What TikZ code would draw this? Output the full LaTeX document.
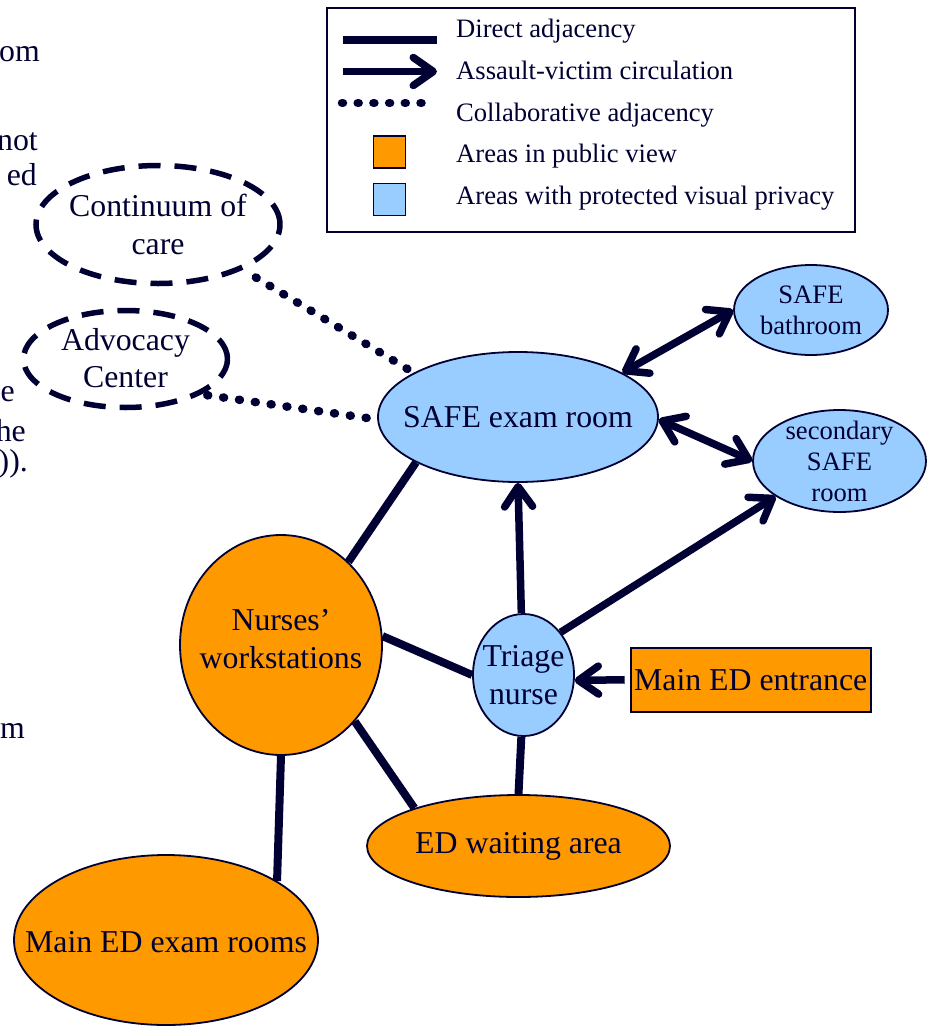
\documentclass[tikz,border=0pt]{standalone}
\usepackage{fontspec}
\setmainfont{Liberation Serif}
\usetikzlibrary{arrows.meta,shapes.geometric}
\definecolor{navy}{HTML}{000033}
\definecolor{pub}{HTML}{FF9900}
\definecolor{priv}{HTML}{99CCFF}
\begin{document}
\begin{tikzpicture}[x=1pt,y=-1pt,
  big/.style={font=\fontsize{31.8}{37.5}\selectfont, text=navy, align=center},
  small/.style={font=\fontsize{26.6}{31}\selectfont, text=navy, align=center},
  area/.style={ellipse, draw=navy, line width=1.8pt, inner sep=0pt},
  pubarea/.style={area, fill=pub},
  privarea/.style={area, fill=priv},
  collab/.style={ellipse, draw=navy, line width=5.5pt, dash pattern=on 22pt off 14pt, inner sep=0pt},
  direct/.style={draw=navy, line width=8pt},
  tip/.tip={Straight Barb[length=20pt,width=28pt,round]},
  circ/.style={draw=navy, line width=7.5pt, -tip},
  circboth/.style={draw=navy, line width=7.5pt, tip-tip},
  dots/.style={draw=navy, line width=8.5pt, line cap=round, dash pattern=on 1pt off 15pt},
]
\useasboundingbox (0,0) rectangle (932,1028);
\clip (0,0) rectangle (932,1028);

% fragments of neighbouring text
\node[big, anchor=base east, inner sep=0pt] (f1) at (40,61.7) {om};
\node[big, anchor=base east, inner sep=0pt] (f2) at (38,150) {not};
\node[big, anchor=base east, inner sep=0pt] (f3) at (37,185) {ed};
\node[big, anchor=base east, inner sep=0pt] (f4) at (15,401.7) {e};
\node[big, anchor=base east, inner sep=0pt] (f5) at (26,441.7) {he};
\node[big, anchor=base east, inner sep=0pt] (f6) at (28,471) {0)).};
\node[big, anchor=base east, inner sep=0pt] (f7) at (25,738.3) {m};

% legend
\node[draw=navy, line width=2pt, fill=white, minimum width=528pt, minimum height=224pt, inner sep=0pt] (legend) at (591,120) {};
\coordinate (d1) at (343,40); \coordinate (d2) at (437,40);
\draw[draw=navy, line width=8pt] (d1) -- (d2);
\coordinate (a1) at (343,71.5); \coordinate (a2) at (437,71.5);
\draw[circ] (a1) -- (a2);
\coordinate (c1) at (342,103); \coordinate (c2) at (422,103);
\draw[dots, dash pattern=on 1pt off 14.7pt] (c1) -- (c2);
\node[draw=navy, line width=1.8pt, fill=pub, minimum width=32pt, minimum height=32pt, inner sep=0pt] (sq1) at (389.5,152) {};
\node[draw=navy, line width=1.8pt, fill=priv, minimum width=32pt, minimum height=32pt, inner sep=0pt] (sq2) at (389.5,199.5) {};
\node[small, anchor=base west, inner sep=0pt] (t1) at (456,37) {Direct adjacency};
\node[small, anchor=base west, inner sep=0pt] (t2) at (456,79.5) {Assault-victim circulation};
\node[small, anchor=base west, inner sep=0pt] (t3) at (456,121.5) {Collaborative adjacency};
\node[small, anchor=base west, inner sep=0pt] (t4) at (456,162.5) {Areas in public view};
\node[small, anchor=base west, inner sep=0pt] (t5) at (456,204) {Areas with protected visual privacy};

% areas
\node[collab, minimum width=244pt, minimum height=118pt, label={[big]center:Continuum of\\care}] (cont) at (158,224.5) {};
\node[collab, minimum width=204pt, minimum height=97pt, label={[big, yshift=1pt]center:Advocacy\\Center}] (adv) at (125.5,359) {};
\node[privarea, minimum width=280pt, minimum height=130pt, label={[big]center:SAFE exam room}] (safe) at (518,417) {};
\node[privarea, minimum width=154pt, minimum height=90pt, label={[small]center:SAFE\\bathroom}] (bath) at (811,310) {};
\node[privarea, minimum width=173pt, minimum height=102pt, label={[small]center:secondary\\SAFE\\room}] (sec) at (839.5,461) {};
\node[pubarea, minimum width=202pt, minimum height=220pt, label={[big, yshift=6pt]center:Nurses’\\workstations}] (nurse) at (281,645) {};
\node[privarea, minimum width=101pt, minimum height=122pt, label={[big]center:Triage\\nurse}] (triage) at (523.5,675) {};
\node[draw=navy, line width=2pt, fill=pub, minimum width=240pt, minimum height=64pt, inner sep=0pt, big] (entr) at (750.7,679.7) {Main ED entrance};
\node[pubarea, minimum width=303pt, minimum height=102pt, label={[big]center:ED waiting area}] (wait) at (518.5,846) {};
\node[pubarea, minimum width=304pt, minimum height=170pt, label={[big, yshift=-2pt]center:Main ED exam rooms}] (exam) at (166,940) {};

% collaborative adjacency
\draw[dots, shorten <=15pt] (cont.332) -- (safe.157.7);
\draw[dots, shorten <=6pt] (adv.335) -- (safe.181);

% direct adjacency
\draw[direct] (safe.204) -- (nurse.51.5);
\draw[direct] (nurse.5) -- (triage.180);
\draw[direct] (nurse.314) -- (wait.160);
\draw[direct] (nurse.270) -- (exam.28);
\draw[direct] (triage.268) -- (wait.90);

% assault-victim circulation
\draw[circ] (triage.92) -- (safe.270);
\draw[circ] (triage.49) -- (sec.209.5);
\draw[circ, shorten <=5pt] (entr.west) -- (triage.354);
\draw[circboth] (safe.23) -- (bath.180);
\draw[circboth] (safe.359) -- (sec.180);
\end{tikzpicture}
\end{document}
